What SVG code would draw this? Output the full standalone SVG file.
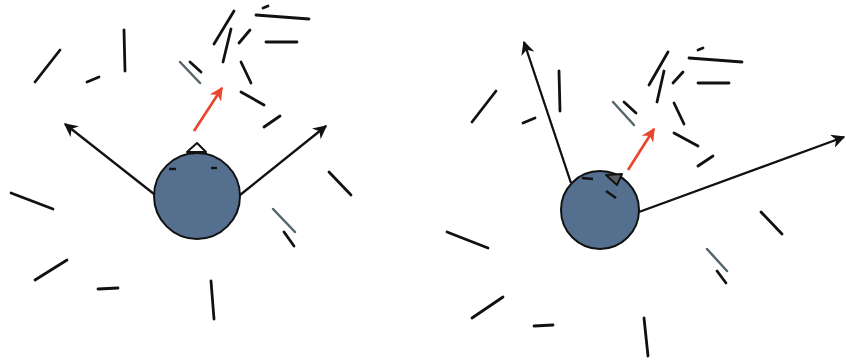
<svg xmlns="http://www.w3.org/2000/svg" width="846" height="361" viewBox="0 0 846 361">
<defs>
<style>
.s{stroke:#111;stroke-width:2.8;stroke-linecap:round;fill:none}
.g{stroke:#56676c;stroke-width:2.5;stroke-linecap:round;fill:none}
.a{stroke:#111;stroke-width:2.3;fill:none;marker-end:url(#ak)}
.r{stroke:#e8472e;stroke-width:2.7;fill:none;marker-end:url(#ar)}
.head{fill:#55708f;stroke:#111;stroke-width:2}
</style>
<marker id="ak" viewBox="0 0 10 10" refX="9" refY="5" markerWidth="6" markerHeight="6" orient="auto" markerUnits="strokeWidth">
<path d="M0,0 L10,5 L0,10 L3,5 z" fill="#111"/>
</marker>
<marker id="ar" viewBox="0 0 10 10" refX="9" refY="5" markerWidth="5" markerHeight="5" orient="auto" markerUnits="strokeWidth">
<path d="M0,0 L10,5 L0,10 L3,5 z" fill="#e8472e"/>
</marker>
</defs>
<rect width="846" height="361" fill="#fff"/>

<g id="scene-left-lines">
<line class="s" x1="35" y1="82" x2="60" y2="50"/>
<line class="s" x1="87" y1="82" x2="99" y2="77"/>
<line class="s" x1="124" y1="30" x2="125" y2="71"/>
<line class="g" x1="180" y1="62" x2="200" y2="83"/>
<line class="s" x1="190" y1="62" x2="201" y2="72"/>
<line class="s" x1="214" y1="44" x2="234" y2="11"/>
<line class="s" x1="223" y1="62" x2="231" y2="29"/>
<line class="s" x1="239" y1="43" x2="250" y2="30"/>
<line class="s" x1="263" y1="8" x2="268" y2="6"/>
<line class="s" x1="256" y1="15" x2="309" y2="19"/>
<line class="s" x1="266" y1="42" x2="297" y2="42"/>
<line class="s" x1="241" y1="62" x2="251" y2="83"/>
<line class="s" x1="241" y1="92" x2="264" y2="105"/>
<line class="s" x1="264" y1="127" x2="280" y2="116"/>
<line class="s" x1="329" y1="172" x2="351" y2="195"/>
<line class="s" x1="11" y1="193" x2="53" y2="209"/>
<line class="s" x1="35" y1="280" x2="67" y2="260"/>
<line class="s" x1="98" y1="289" x2="118" y2="288"/>
<line class="s" x1="211" y1="281" x2="214" y2="319"/>
<line class="g" x1="273" y1="209" x2="295" y2="232"/>
<line class="s" x1="284" y1="232" x2="294" y2="246"/>
</g>

<g id="scene-right-lines">
<line class="s" x1="472" y1="122" x2="496" y2="91"/>
<line class="s" x1="523" y1="123" x2="535" y2="118"/>
<line class="s" x1="559" y1="71" x2="560" y2="111"/>
<line class="g" x1="613" y1="102" x2="634" y2="125"/>
<line class="s" x1="624" y1="102" x2="636" y2="113"/>
<line class="s" x1="649" y1="85" x2="668" y2="52"/>
<line class="s" x1="657" y1="102" x2="664" y2="71"/>
<line class="s" x1="673" y1="83" x2="683" y2="72"/>
<line class="s" x1="698" y1="50" x2="703" y2="48"/>
<line class="s" x1="689" y1="58" x2="742" y2="62"/>
<line class="s" x1="698" y1="83" x2="729" y2="83"/>
<line class="s" x1="674" y1="103" x2="684" y2="124"/>
<line class="s" x1="674" y1="133" x2="698" y2="146"/>
<line class="s" x1="698" y1="166" x2="713" y2="156"/>
<line class="s" x1="447" y1="232" x2="488" y2="248"/>
<line class="s" x1="472" y1="318" x2="503" y2="297"/>
<line class="s" x1="534" y1="326" x2="553" y2="325"/>
<line class="s" x1="644" y1="318" x2="648" y2="356"/>
<line class="s" x1="761" y1="212" x2="782" y2="234"/>
<line class="g" x1="707" y1="249" x2="727" y2="271"/>
<line class="s" x1="717" y1="271" x2="726" y2="283"/>
</g>

<g id="connectors">
<line class="a" x1="154" y1="194" x2="65" y2="124"/>
<line class="a" x1="240" y1="195" x2="326" y2="126"/>
<line class="r" x1="194" y1="131" x2="222" y2="88"/>
<line class="a" x1="571" y1="183" x2="524" y2="42"/>
<line class="a" x1="628" y1="216" x2="844" y2="137"/>
<line class="r" x1="628" y1="170" x2="654" y2="129"/>
</g>

<g id="agent-left">
<path d="M187,152 L197,143 L206,152 Z" fill="#fff" stroke="#111" stroke-width="2" stroke-linejoin="round"/>
<circle class="head" cx="197" cy="196" r="43"/>
<line x1="169" y1="169" x2="176" y2="169" stroke="#111" stroke-width="2.4"/>
<line x1="211" y1="168" x2="217" y2="168" stroke="#111" stroke-width="2.4"/>
</g>

<g id="agent-right">
<circle class="head" cx="600" cy="210" r="39"/>
<path d="M606,175 L622,174 L617,185 Z" fill="#5a5f66" stroke="#111" stroke-width="2" stroke-linejoin="round"/>
<line x1="582" y1="178" x2="593" y2="179" stroke="#111" stroke-width="2.4"/>
<line x1="606" y1="191" x2="616" y2="198" stroke="#111" stroke-width="2.4"/>
</g>
</svg>
